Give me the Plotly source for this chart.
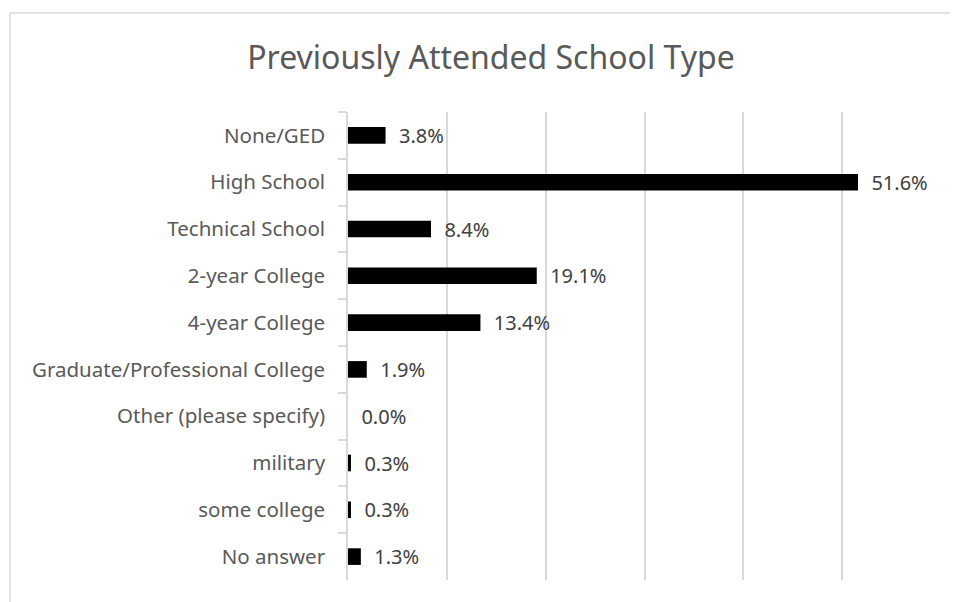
import plotly.graph_objects as go

categories = ["None/GED", "High School", "Technical School", "2-year College",
              "4-year College", "Graduate/Professional College",
              "Other (please specify)", "military", "some college", "No answer"]
values = [3.8, 51.6, 8.4, 19.1, 13.4, 1.9, 0.0, 0.3, 0.3, 1.3]
labels = ["3.8%", "51.6%", "8.4%", "19.1%", "13.4%", "1.9%", "0.0%", "0.3%", "0.3%", "1.3%"]
x_ticks = [0, 10, 20, 30, 40, 50, 60]

FONT = "Noto Sans"
OFF = 8  # page body margin
W, H = 958 - OFF, 602 - OFF
ML, MR, MT, MB = 348 - OFF, 17, 112 - OFF, 22
pw, ph = W - ML - MR, H - MT - MB

fig = go.Figure(go.Bar(
    y=categories, x=values, orientation="h",
    marker=dict(color="#000000", line=dict(width=0)),
    width=0.355,
    text=["  " + t for t in labels], textposition="outside",
    constraintext="none",
    textfont=dict(family=FONT, size=20, color="#404040"),
    cliponaxis=False,
))

def px_x(p):
    return (p - OFF - ML) / pw

def px_y(p):
    return (H - MB - (p - OFF)) / ph

fig.update_layout(
    width=W, height=H,
    margin=dict(l=ML, r=MR, t=MT, b=MB),
    paper_bgcolor="white", plot_bgcolor="white",
    showlegend=False,
    title=dict(text="Previously Attended School Type", x=(491 - OFF) / W, xanchor="center",
               xref="container", y=1 - (58 - OFF) / H, yanchor="middle", yref="container",
               font=dict(family=FONT, size=32, color="#595959")),
    xaxis=dict(range=[0, 60], tickvals=x_ticks, showticklabels=False,
               showgrid=True, gridcolor="#d9d9d9", gridwidth=1.5,
               zeroline=False, showline=False, fixedrange=True),
    yaxis=dict(autorange="reversed", showline=True, linecolor="#d9d9d9", linewidth=1.5,
               ticks="outside", tickson="boundaries", ticklen=8, tickcolor="#d9d9d9",
               tickwidth=1.5, showgrid=False, ticklabelstandoff=17,
               tickfont=dict(family=FONT, size=20.5, color="#595959")),
    shapes=[dict(type="rect", xref="paper", yref="paper",
                 x0=px_x(10), x1=px_x(990), y0=px_y(640), y1=px_y(13),
                 line=dict(color="#d9d9d9", width=1.5), fillcolor="rgba(0,0,0,0)", layer="below")],
)

fig.write_html("out.html")
